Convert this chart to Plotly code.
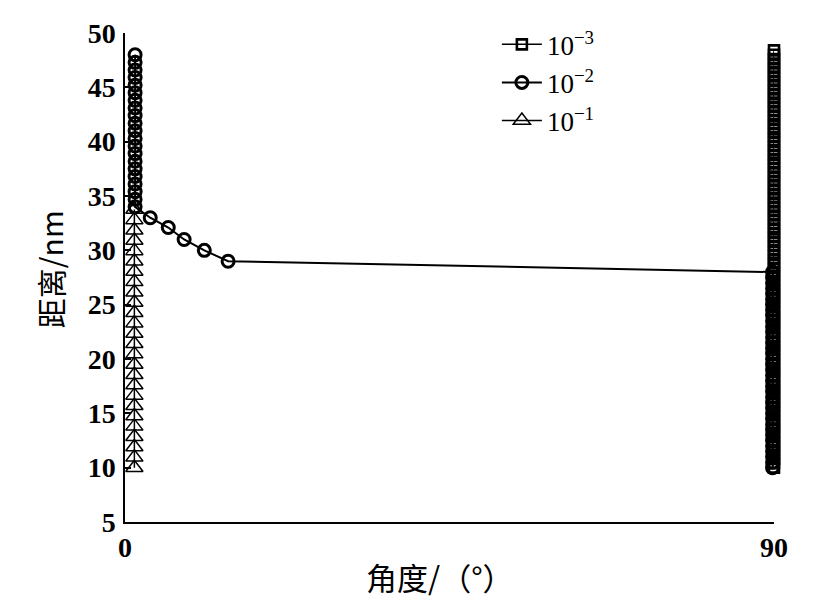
import plotly.graph_objects as go

# ---- data ----
# 10^-3 series (squares): dense vertical stack at 90°
sq_x = [90] * 97
sq_y = [10.0, 10.4, 10.8, 11.2, 11.6, 12.0, 12.4, 12.8, 13.2, 13.6, 14.0, 14.4, 14.8,
        15.2, 15.6, 16.0, 16.4, 16.8, 17.2, 17.6, 18.0, 18.4, 18.8, 19.2, 19.6, 20.0,
        20.4, 20.8, 21.2, 21.6, 22.0, 22.4, 22.8, 23.2, 23.6, 24.0, 24.4, 24.8, 25.2,
        25.6, 26.0, 26.4, 26.8, 27.2, 27.6, 28.0, 28.4, 28.8, 29.2, 29.6, 30.0, 30.4,
        30.8, 31.2, 31.6, 32.0, 32.4, 32.8, 33.2, 33.6, 34.0, 34.4, 34.8, 35.2, 35.6,
        36.0, 36.4, 36.8, 37.2, 37.6, 38.0, 38.4, 38.8, 39.2, 39.6, 40.0, 40.4, 40.8,
        41.2, 41.6, 42.0, 42.4, 42.8, 43.2, 43.6, 44.0, 44.4, 44.8, 45.2, 45.6, 46.0,
        46.4, 46.8, 47.2, 47.6, 48.0, 48.4]

# 10^-2 series (circles)
ci_x = [1.4] * 21 + [3.5, 6.0, 8.2, 11.0, 14.3] + [89.8] * 37
ci_y = [48.0, 47.3, 46.6, 45.9, 45.2, 44.5, 43.8, 43.1, 42.4, 41.7, 41.0, 40.3, 39.6,
        38.9, 38.2, 37.5, 36.8, 36.1, 35.4, 34.7, 34.0,
        33.0, 32.1, 31.0, 30.0, 29.0,
        28.0, 27.5, 27.0, 26.5, 26.0, 25.5, 25.0, 24.5, 24.0, 23.5, 23.0, 22.5, 22.0,
        21.5, 21.0, 20.5, 20.0, 19.5, 19.0, 18.5, 18.0, 17.5, 17.0, 16.5, 16.0, 15.5,
        15.0, 14.5, 14.0, 13.5, 13.0, 12.5, 12.0, 11.5, 11.0, 10.5, 10.0]

# 10^-1 series (triangles): vertical stack near 0°
tr_x = [1.3] * 26
tr_y = [33.75, 32.8, 31.85, 30.9, 29.95, 29.0, 28.05, 27.1, 26.15, 25.2, 24.25, 23.3,
        22.35, 21.4, 20.45, 19.5, 18.55, 17.6, 16.65, 15.7, 14.75, 13.8, 12.85, 11.9,
        10.95, 10.0]

names = ["10<sup>−3</sup>", "10<sup>−2</sup>", "10<sup>−1</sup>"]
x_ticks = [0, 90]
y_ticks = [5, 10, 15, 20, 25, 30, 35, 40, 45, 50]
x_title = "角度/（°）"
y_title = "距离/nm"

fig = go.Figure()
fig.add_trace(go.Scatter(x=sq_x, y=sq_y, name=names[0], mode="lines+markers",
                         line=dict(color="black", width=1.5),
                         marker=dict(symbol="square-open", size=10, color="black",
                                     line=dict(width=2.6, color="black")),
                         cliponaxis=False))
fig.add_trace(go.Scatter(x=ci_x, y=ci_y, name=names[1], mode="lines+markers",
                         line=dict(color="black", width=2),
                         marker=dict(symbol="circle-open", size=12, color="black",
                                     line=dict(width=3, color="black")),
                         cliponaxis=False))
fig.add_trace(go.Scatter(x=tr_x, y=tr_y, name=names[2], mode="lines+markers",
                         line=dict(color="black", width=1.5),
                         marker=dict(symbol="triangle-up-open", size=15, color="black",
                                     line=dict(width=1.5, color="black")),
                         cliponaxis=False))

serif = "Liberation Serif, Times New Roman, serif"
cjk = "Noto Sans CJK SC, sans-serif"

fig.update_layout(
    width=824, height=607,
    margin=dict(l=117, r=58, t=17, b=93),
    paper_bgcolor="white", plot_bgcolor="white",
    showlegend=True,
    legend=dict(x=0.573, y=1.026, xanchor="left", yanchor="top",
                font=dict(family=serif, size=27, color="black"),
                bgcolor="rgba(0,0,0,0)", tracegroupgap=0, itemwidth=40),
    xaxis=dict(range=[0, 90], tickvals=x_ticks, ticktext=[str(v) for v in x_ticks],
               showgrid=False, zeroline=False, showline=True, linecolor="black",
               linewidth=1.5, ticks="inside", ticklen=18, tickwidth=1.5, tickcolor="black",
               ticklabelstandoff=0, automargin=False,
               tickfont=dict(family=serif, size=28, color="black", weight="bold")),
    yaxis=dict(range=[5, 50], tickvals=y_ticks, showgrid=False, zeroline=False,
               showline=True, linecolor="black", linewidth=1.5, ticks="inside",
               ticklen=6, tickwidth=1.5, tickcolor="black",
               ticklabelstandoff=2, automargin=False,
               tickfont=dict(family=serif, size=28, color="black", weight="bold")),
    annotations=[
        dict(text=x_title, xref="paper", yref="paper", x=0.485, y=-0.111,
             xanchor="center", yanchor="middle", showarrow=False,
             font=dict(family=cjk, size=31, color="black")),
        dict(text=y_title, xref="paper", yref="paper", x=-0.1156, y=0.517,
             xanchor="center", yanchor="middle", showarrow=False, textangle=-90,
             font=dict(family=cjk, size=30, color="black")),
    ],
)

fig.write_html("out.html")
